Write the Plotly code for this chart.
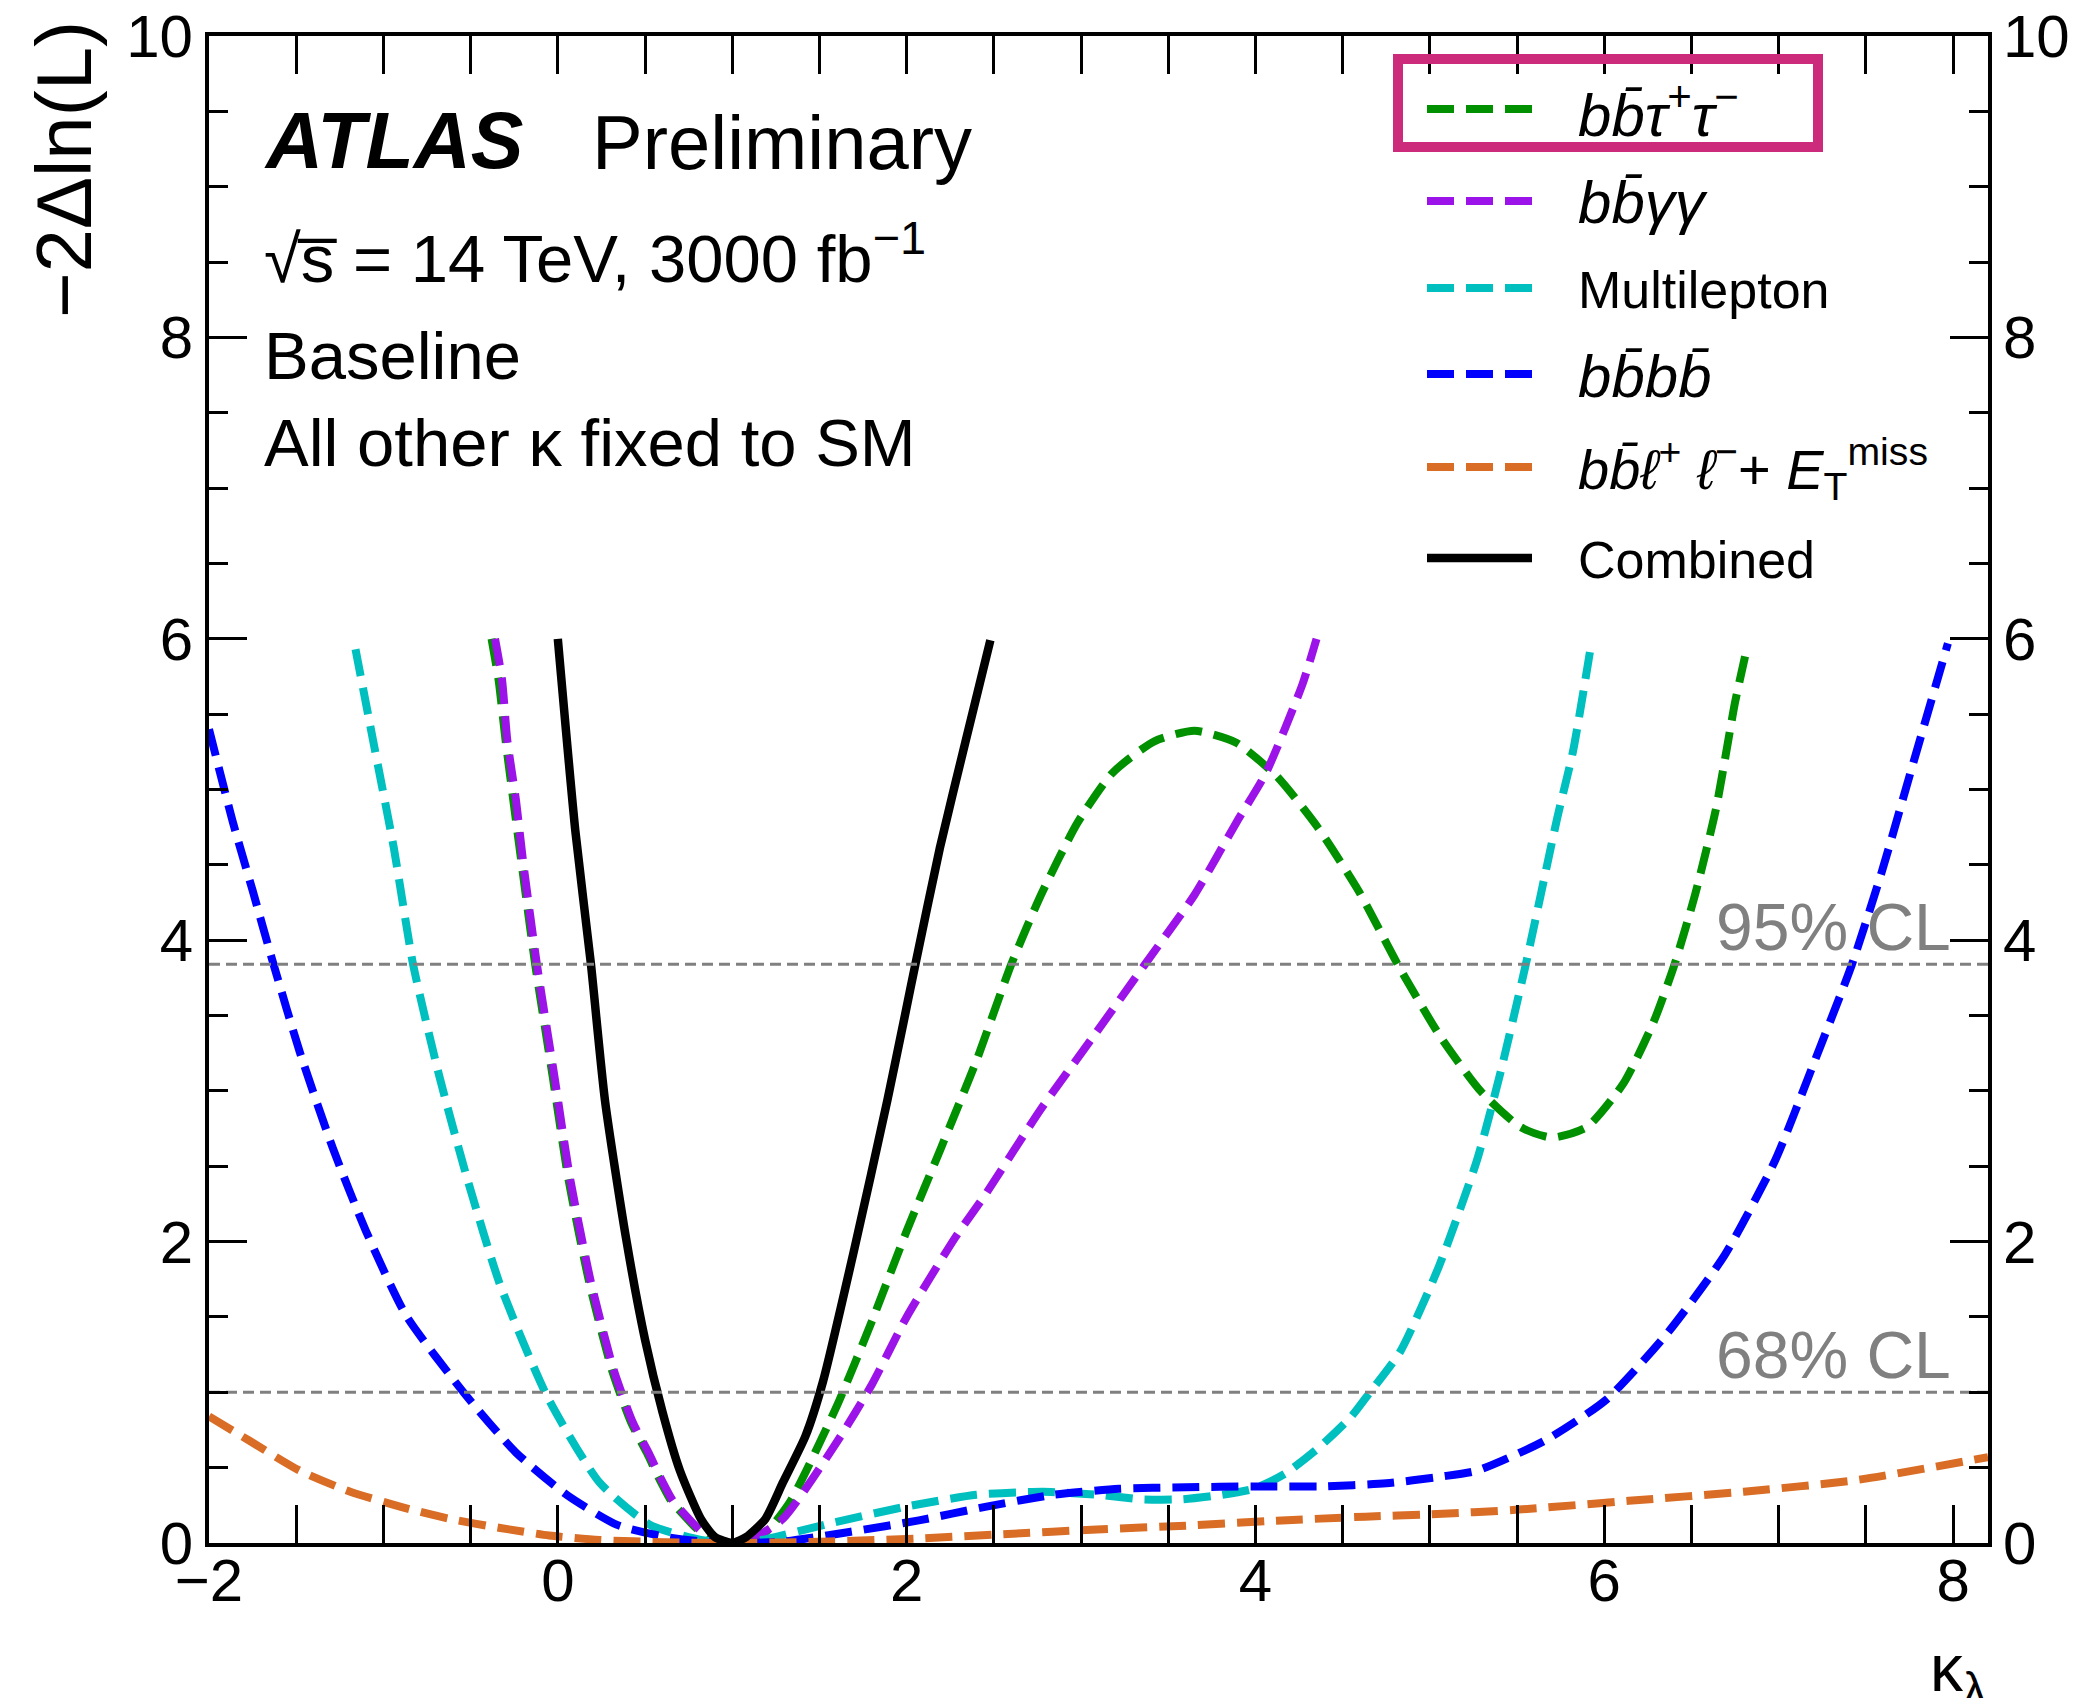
import plotly.graph_objects as go

# ---------------- data ----------------
X_RANGE = [-2.0, 8.2]
Y_RANGE = [0.0, 10.0]
X_TICKS = [-2, 0, 2, 4, 6, 8]
Y_TICKS = [0, 2, 4, 6, 8, 10]
CL_LEVELS = [1.0, 3.84]
CL_LABELS = ["68% CL", "95% CL"]

kl_bbtautau = [-0.38, -0.34, -0.30, -0.21, -0.13, -0.03, 0.06, 0.18, 0.31, 0.42, 0.51, 0.58, 0.65,
               0.71, 0.81, 0.90, 1.00, 1.10, 1.20, 1.335, 1.60, 1.80, 2.00, 2.20, 2.40, 2.60,
               2.77, 2.98, 3.18, 3.42, 3.65, 3.89, 4.12, 4.35, 4.59, 4.82, 5.06, 5.29, 5.52,
               5.70, 5.90, 6.11, 6.28, 6.40, 6.52, 6.64, 6.75, 6.82]
nll_bbtautau = [6.00, 5.73, 5.33, 4.53, 3.84, 3.10, 2.42, 1.73, 1.15, 0.80, 0.60, 0.43, 0.28,
                0.20, 0.08, 0.02, 0.00, 0.02, 0.08, 0.28, 0.91, 1.47, 2.07, 2.63, 3.20, 3.84,
                4.30, 4.78, 5.11, 5.32, 5.39, 5.31, 5.09, 4.76, 4.33, 3.83, 3.36, 3.00, 2.76,
                2.69, 2.76, 3.05, 3.45, 3.83, 4.30, 4.87, 5.58, 5.95]

kl_bbyy = [-0.36, -0.32, -0.29, -0.24, -0.20, -0.12, -0.02, 0.07, 0.19, 0.32, 0.43, 0.52, 0.59,
           0.66, 0.72, 0.82, 0.90, 1.00, 1.10, 1.29, 1.60, 1.80, 2.00, 2.28, 2.45, 2.77, 3.07,
           3.36, 3.65, 3.89, 4.06, 4.27, 4.35]
nll_bbyy = [6.00, 5.73, 5.33, 4.93, 4.53, 3.84, 3.10, 2.42, 1.73, 1.15, 0.80, 0.60, 0.43,
            0.28, 0.20, 0.08, 0.02, 0.00, 0.02, 0.16, 0.67, 1.05, 1.50, 2.03, 2.31, 2.88, 3.36,
            3.83, 4.30, 4.78, 5.11, 5.70, 6.00]

kl_multilepton = [-1.16, -1.06, -0.94, -0.83, -0.68, -0.52, -0.33, -0.06, 0.24, 0.53, 0.82, 1.00,
                  1.17, 1.56, 1.99, 2.40, 2.78, 3.09, 3.35, 3.58, 3.81, 3.99, 4.17, 4.37, 4.55,
                  4.65, 4.83, 5.05, 5.27, 5.40, 5.55, 5.73, 5.82, 5.92]
nll_multilepton = [5.93, 5.33, 4.61, 3.84, 3.10, 2.42, 1.71, 0.97, 0.40, 0.12, 0.02, 0.00,
                   0.02, 0.13, 0.24, 0.32, 0.34, 0.32, 0.29, 0.29, 0.32, 0.36, 0.46, 0.64, 0.84,
                   0.99, 1.27, 1.83, 2.54, 3.10, 3.84, 4.81, 5.25, 5.93]

kl_bbbb = [-2.00, -1.86, -1.75, -1.63, -1.48, -1.29, -1.10, -0.87, -0.52, -0.24, 0.05, 0.34,
           0.62, 0.82, 1.00, 1.30, 1.68, 2.07, 2.45, 2.84, 3.22, 3.60, 3.99, 4.37, 4.75, 5.06,
           5.27, 5.66, 6.01, 6.36, 6.69, 6.98, 7.20, 7.42, 7.59, 7.77, 7.97]
nll_bbbb = [5.40, 4.77, 4.33, 3.84, 3.26, 2.62, 2.07, 1.51, 0.97, 0.60, 0.32, 0.12,
            0.04, 0.01, 0.00, 0.01, 0.075, 0.15, 0.24, 0.32, 0.36, 0.37, 0.375, 0.375, 0.396, 0.44,
            0.48, 0.68, 0.95, 1.39, 1.91, 2.54, 3.18, 3.84, 4.45, 5.17, 5.97]

kl_bbll = [-2.00, -1.77, -1.48, -1.19, -0.90, -0.62, -0.33, -0.05, 0.24, 0.62, 1.00, 1.56, 2.07,
           2.58, 3.09, 3.60, 4.12, 4.63, 5.00, 5.49, 6.14, 6.80, 7.46, 8.20]
nll_bbll = [0.84, 0.68, 0.48, 0.34, 0.24, 0.16, 0.10, 0.05, 0.02, 0.005, 0.00, 0.01, 0.03,
            0.06, 0.09, 0.115, 0.148, 0.175, 0.19, 0.22, 0.28, 0.34, 0.42, 0.57]

kl_combined = [0.00, 0.10, 0.19, 0.27, 0.39, 0.50, 0.60, 0.70, 0.82, 0.90, 1.00, 1.08, 1.19,
               1.29, 1.42, 1.52, 1.70, 1.89, 1.99, 2.05, 2.19, 2.34, 2.48]
nll_combined = [6.00, 4.73, 3.84, 2.94, 2.03, 1.35, 0.87, 0.48, 0.16, 0.04, 0.00, 0.04, 0.16,
                0.40, 0.71, 1.07, 1.95, 2.94, 3.50, 3.84, 4.61, 5.33, 5.99]

SERIES_NAMES = [
    "<i>b</i><i>b\u0304</i><i>\u03c4</i><sup>+</sup><i>\u03c4</i><sup>\u2212</sup>",
    "<i>b</i><i>b\u0304</i><i>\u03b3\u03b3</i>",
    "Multilepton",
    "<i>b</i><i>b\u0304</i><i>b</i><i>b\u0304</i>",
    "<i>b</i><i>b\u0304</i><i>\u2113</i><sup>+</sup> <i>\u2113</i><sup>\u2212</sup>+ <i>E</i><sub>T</sub><sup>miss</sup>",
    "Combined",
]
LEGEND_FONT_SIZES = [60, 60, 52, 60, 56, 52]
SERIES_X = [kl_bbtautau, kl_bbyy, kl_multilepton, kl_bbbb, kl_bbll, kl_combined]
SERIES_Y = [nll_bbtautau, nll_bbyy, nll_multilepton, nll_bbbb, nll_bbll, nll_combined]
SERIES_COLORS = ["#009000", "#9B13E8", "#00BFBF", "#0000FF", "#D96D26", "#000000"]
SERIES_DASH = ["27px,12px"] * 5 + ["solid"]
SERIES_WIDTH = [8] * 5 + [8.5]

# ---------------- layout geometry ----------------
W, H = 2075, 1698
L, R, T, B = 209, 87, 36, 155
PW, PH = W - L - R, H - T - B
FONT = "Liberation Sans, Arial, Helvetica, sans-serif"


def fx(px):
    return (px - L) / PW


def fy(py):
    return (H - B - py) / PH


fig = go.Figure()

# confidence-level reference lines
for lvl in CL_LEVELS:
    fig.add_trace(go.Scatter(x=X_RANGE, y=[lvl, lvl], mode="lines", yaxis="y2",
                             line=dict(color="#808080", width=3, dash="11px,6px"),
                             showlegend=False, hoverinfo="skip"))

for i in range(len(SERIES_X)):
    fig.add_trace(go.Scatter(x=SERIES_X[i], y=SERIES_Y[i], mode="lines", name=SERIES_NAMES[i],
                             line=dict(color=SERIES_COLORS[i], width=SERIES_WIDTH[i],
                                       dash=SERIES_DASH[i], shape="spline", smoothing=0.6),
                             showlegend=False))

annotations = []
shapes = []

# CL labels
for lvl, lab in zip(CL_LEVELS, CL_LABELS):
    annotations.append(dict(x=8.0, y=lvl, xref="x", yref="y", text=lab, showarrow=False,
                            xanchor="right", yanchor="bottom", yshift=-2,
                            font=dict(family=FONT, size=66, color="#808080")))

# ATLAS label and info text
annotations.append(dict(x=fx(262), y=fy(187), xref="paper", yref="paper",
                        text="<b><i>ATLAS</i></b>", showarrow=False, xanchor="left", yanchor="bottom",
                        font=dict(family=FONT, size=79, color="black")))
annotations.append(dict(x=fx(590), y=fy(187), xref="paper", yref="paper",
                        text="Preliminary", showarrow=False, xanchor="left", yanchor="bottom",
                        font=dict(family=FONT, size=76, color="black")))
info_lines = ["\u221as\u0305 = 14 TeV, 3000 fb<sup>\u22121</sup>", "Baseline",
              "All other \u03ba fixed to SM"]
info_bottoms = [298, 395, 482]
for txt, yb in zip(info_lines, info_bottoms):
    annotations.append(dict(x=fx(262), y=fy(yb), xref="paper", yref="paper", text=txt,
                            showarrow=False, xanchor="left", yanchor="bottom",
                            font=dict(family=FONT, size=67, color="black")))

# legend (drawn manually to match the reference layout)
leg_y = [109, 201, 288, 374, 467, 558]
for i, ly in enumerate(leg_y):
    shapes.append(dict(type="line", xref="paper", yref="paper",
                       x0=fx(1427), x1=fx(1532), y0=fy(ly), y1=fy(ly),
                       line=dict(color=SERIES_COLORS[i], width=SERIES_WIDTH[i],
                                 dash=SERIES_DASH[i])))
    annotations.append(dict(x=fx(1576), y=fy(ly + 2), xref="paper", yref="paper",
                            text=SERIES_NAMES[i], showarrow=False, xanchor="left",
                            yanchor="middle",
                            font=dict(family=FONT, size=LEGEND_FONT_SIZES[i], color="black")))
shapes.append(dict(type="rect", xref="paper", yref="paper", x0=fx(1398), x1=fx(1818),
                   y0=fy(147), y1=fy(59), line=dict(color="#CC2A7A", width=10)))

# axis titles
annotations.append(dict(x=fx(64), y=fy(170), xref="paper", yref="paper",
                        text="\u22122\u0394ln(L)", textangle=-90, showarrow=False,
                        xanchor="center", yanchor="middle",
                        font=dict(family=FONT, size=78, color="black")))
annotations.append(dict(x=1.0, y=fy(1629), xref="paper", yref="paper",
                        text="\u03ba<sub>\u03bb</sub>", showarrow=False,
                        xanchor="right", yanchor="top",
                        font=dict(family=FONT, size=66, color="black")))

axis_common = dict(showgrid=False, zeroline=False, showline=True, linecolor="black", linewidth=4,
                   ticks="inside", tickcolor="black", tickwidth=3, ticklen=38, automargin=False,
                   tickfont=dict(family=FONT, size=60, color="black"))

fig.update_layout(
    width=W, height=H, autosize=False,
    margin=dict(l=L, r=R, t=T, b=B, pad=0, autoexpand=False),
    paper_bgcolor="white", plot_bgcolor="white",
    font=dict(family=FONT, color="black"),
    showlegend=False,
    xaxis=dict(range=X_RANGE, tickvals=X_TICKS, mirror="allticks", ticklabelstandoff=-18,
               minor=dict(ticks="inside", ticklen=19, tickwidth=2.5, dtick=0.5, tick0=-2,
                          tickcolor="black", showgrid=False),
               **axis_common),
    yaxis=dict(range=Y_RANGE, tickvals=Y_TICKS, mirror="allticks",
               minor=dict(ticks="inside", ticklen=19, tickwidth=2.5, dtick=0.5, tick0=0,
                          tickcolor="black", showgrid=False),
               **axis_common),
    yaxis2=dict(range=Y_RANGE, tickvals=Y_TICKS, overlaying="y", side="right", automargin=False,
                showgrid=False, zeroline=False, showline=False, ticks="", ticklabelstandoff=14,
                tickfont=dict(family=FONT, size=60, color="black")),
    annotations=annotations,
    shapes=shapes,
)

fig.write_html("out.html", config={"displayModeBar": False},
               post_script="document.body.style.margin='0px';document.body.style.overflow='hidden';")
